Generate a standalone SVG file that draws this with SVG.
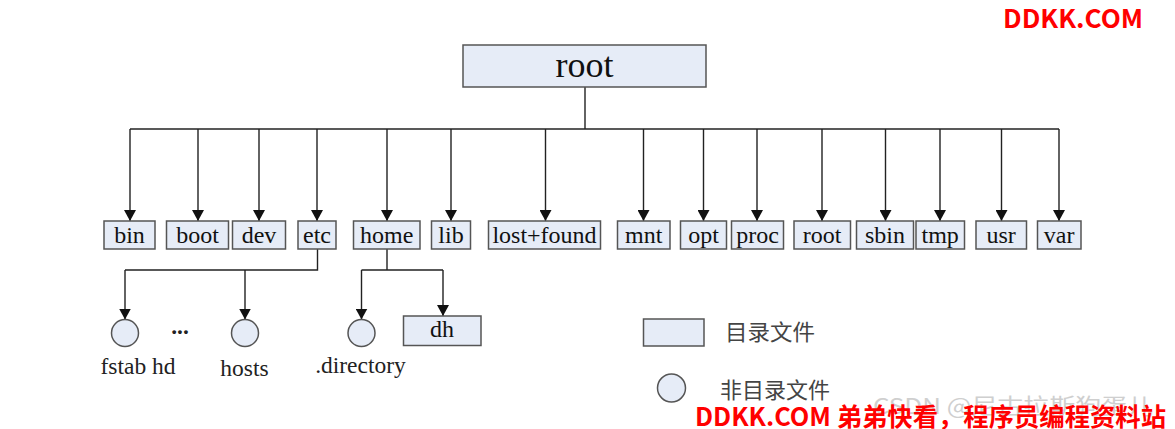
<svg xmlns="http://www.w3.org/2000/svg" width="1175" height="429" viewBox="0 0 1175 429">
<style>
.box{fill:#e6ecf7;stroke:#555;stroke-width:1.5}
.t{font-family:"Liberation Serif","Times New Roman",serif;font-size:24px;fill:#111;text-anchor:middle}
.lbl{font-family:"Liberation Serif","Times New Roman",serif;font-size:23.5px;fill:#222;text-anchor:middle}
.ln{fill:none;stroke:#222;stroke-width:1.4}
.leg{font-family:"Noto Sans CJK SC","Noto Sans",sans-serif;font-size:22px;fill:#444}
.wm{font-family:"Noto Sans CJK SC","Noto Sans",sans-serif;font-weight:bold;fill:#ff0000}
</style>
<defs>
<marker id="ah" viewBox="0 0 11 12" refX="11" refY="6" markerWidth="11" markerHeight="12" markerUnits="userSpaceOnUse" orient="auto">
<path d="M0,0 L11,6 L0,12 Z" fill="#111"/>
</marker>
</defs>
<rect width="1175" height="429" fill="#fff"/>

<g id="connectors">
<path class="ln" d="M585,87 V129"/>
<path class="ln" d="M130,129 H1059"/>
<g marker-end="url(#ah)">
<path class="ln" d="M130,129 V221"/>
<path class="ln" d="M198,129 V221"/>
<path class="ln" d="M259,129 V221"/>
<path class="ln" d="M317,129 V221"/>
<path class="ln" d="M387,129 V221"/>
<path class="ln" d="M451,129 V221"/>
<path class="ln" d="M545.5,129 V221"/>
<path class="ln" d="M643.5,129 V221"/>
<path class="ln" d="M703.5,129 V221"/>
<path class="ln" d="M757,129 V221"/>
<path class="ln" d="M822,129 V221"/>
<path class="ln" d="M885.5,129 V221"/>
<path class="ln" d="M940,129 V221"/>
<path class="ln" d="M1001.5,129 V221"/>
<path class="ln" d="M1059,129 V221"/>
</g>
<path class="ln" d="M317.5,249 V270 H125"/>
<path class="ln" d="M387,249 V270 H361.5 M387,270 H443"/>
<g marker-end="url(#ah)">
<path class="ln" d="M125,270 V319.5"/>
<path class="ln" d="M245,270 V319.5"/>
<path class="ln" d="M361.5,270 V319.5"/>
<path class="ln" d="M443,270 V316"/>
</g>
</g>

<g id="root"><rect class="box" x="463" y="45" width="243" height="42"/><text class="t" x="584.5" y="77" style="font-size:36px">root</text></g>

<g id="bin"><rect class="box" x="104" y="221" width="51" height="28"/><text class="t" x="129.5" y="243">bin</text></g>
<g id="boot"><rect class="box" x="166.5" y="221" width="62" height="28"/><text class="t" x="197.5" y="243">boot</text></g>
<g id="dev"><rect class="box" x="232.5" y="221" width="53" height="28"/><text class="t" x="259" y="243">dev</text></g>
<g id="etc"><rect class="box" x="298" y="221" width="38" height="28"/><text class="t" x="317" y="243">etc</text></g>
<g id="home"><rect class="box" x="353.5" y="221" width="66.5" height="28"/><text class="t" x="386.7" y="243">home</text></g>
<g id="lib"><rect class="box" x="431.5" y="221" width="39" height="28"/><text class="t" x="451" y="243">lib</text></g>
<g id="lost-found"><rect class="box" x="488.5" y="221" width="112" height="28"/><text class="t" x="544.5" y="243">lost+found</text></g>
<g id="mnt"><rect class="box" x="617.5" y="221" width="52.5" height="28"/><text class="t" x="643.7" y="243">mnt</text></g>
<g id="opt"><rect class="box" x="680.5" y="221" width="46" height="28"/><text class="t" x="703.5" y="243">opt</text></g>
<g id="proc"><rect class="box" x="731.5" y="221" width="52" height="28"/><text class="t" x="757.5" y="243">proc</text></g>
<g id="root2"><rect class="box" x="794" y="221" width="56.5" height="28"/><text class="t" x="822.2" y="243">root</text></g>
<g id="sbin"><rect class="box" x="856.5" y="221" width="57" height="28"/><text class="t" x="885" y="243">sbin</text></g>
<g id="tmp"><rect class="box" x="916" y="221" width="48.5" height="28"/><text class="t" x="940.2" y="243">tmp</text></g>
<g id="usr"><rect class="box" x="976" y="221" width="50.5" height="28"/><text class="t" x="1001.2" y="243">usr</text></g>
<g id="var"><rect class="box" x="1037.5" y="221" width="43.5" height="28"/><text class="t" x="1059.2" y="243">var</text></g>

<g id="fstab"><circle class="box" cx="125" cy="333" r="13.5"/><text class="lbl" x="138" y="374">fstab hd</text></g>
<g id="dots"><text class="lbl" x="180" y="334" style="font-weight:bold">...</text></g>
<g id="hosts"><circle class="box" cx="245" cy="333" r="13.5"/><text class="lbl" x="244.5" y="376">hosts</text></g>
<g id="directory"><circle class="box" cx="361.5" cy="333" r="13.5"/><text class="lbl" x="360.5" y="373">.directory</text></g>
<g id="dh"><rect class="box" x="403.5" y="316" width="77.5" height="29.5"/><text class="t" x="442" y="337">dh</text></g>

<g id="legend">
<rect class="box" x="643.5" y="319" width="60.5" height="27"/>
<text class="leg" x="725" y="340" textLength="90" lengthAdjust="spacingAndGlyphs">目录文件</text>
<circle class="box" cx="671.5" cy="388" r="14"/>
<text class="leg" x="720" y="398" textLength="110" lengthAdjust="spacingAndGlyphs">非目录文件</text>
</g>

<g id="watermarks">
<text x="873" y="414" font-family="Noto Sans CJK SC, Noto Sans, sans-serif" font-size="22" fill="#cfcfcf" textLength="280" lengthAdjust="spacingAndGlyphs">CSDN @尼古拉斯狗蛋儿</text>
<text class="wm" x="1003" y="28" font-size="26" textLength="140" lengthAdjust="spacingAndGlyphs">DDKK.COM</text>
<text class="wm" x="695" y="426" font-size="25" textLength="471" lengthAdjust="spacingAndGlyphs">DDKK.COM 弟弟快看，程序员编程资料站</text>
</g>
</svg>
